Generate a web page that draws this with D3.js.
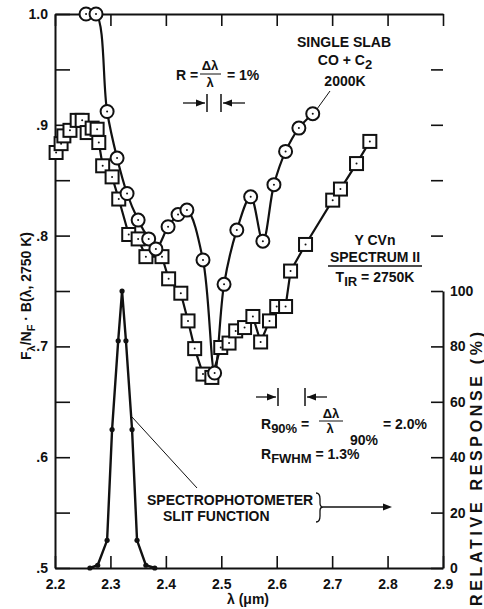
<!DOCTYPE html>
<html>
<head>
<meta charset="utf-8">
<script src="https://cdn.jsdelivr.net/npm/d3@7"></script>
<style>
body { margin: 0; background: #fff; }
text { font-family: "Liberation Sans", Arial, sans-serif; font-weight: bold; fill: #111; }
</style>
</head>
<body>
<svg id="chart" width="484" height="609"></svg>
<script>
// single slab model (circles)
const slabLambda = [2.256, 2.274, 2.294, 2.312, 2.330, 2.350, 2.369, 2.382, 2.404, 2.422, 2.438,
  2.467, 2.488, 2.505, 2.528, 2.553, 2.575, 2.595, 2.616, 2.640, 2.665];
const slabFlux = [1.0, 1.0, 0.912, 0.870, 0.838, 0.814, 0.797, 0.788, 0.808, 0.819, 0.823,
  0.778, 0.676, 0.756, 0.805, 0.835, 0.795, 0.846, 0.876, 0.897, 0.910];

// Y CVn observed spectrum (squares)
const obsLambda = [2.202, 2.211, 2.216, 2.227, 2.240, 2.249, 2.258, 2.267, 2.276, 2.279, 2.286,
  2.303, 2.315, 2.333, 2.350, 2.364, 2.393, 2.405, 2.427, 2.440, 2.452, 2.467, 2.483, 2.499,
  2.514, 2.526, 2.542, 2.557, 2.571, 2.587, 2.600, 2.616, 2.625, 2.652, 2.701, 2.715, 2.744, 2.768];
const obsFlux = [0.875, 0.883, 0.890, 0.895, 0.904, 0.904, 0.893, 0.897, 0.896, 0.884, 0.863,
  0.853, 0.833, 0.801, 0.797, 0.781, 0.781, 0.761, 0.748, 0.723, 0.698, 0.675, 0.672, 0.699,
  0.703, 0.714, 0.717, 0.727, 0.704, 0.723, 0.736, 0.736, 0.768, 0.792, 0.832, 0.842, 0.865, 0.885];

// spectrophotometer slit function, relative response %
const slitLambda = [2.263, 2.277, 2.294, 2.303, 2.314, 2.321, 2.328, 2.339, 2.348, 2.364, 2.380];
const slitResponse = [0, 1, 10, 50, 82, 100, 82, 50, 10, 1, 0];

const xTicks = [2.2, 2.3, 2.4, 2.5, 2.6, 2.7, 2.8, 2.9];
const yTicks = [0.5, 0.55, 0.6, 0.65, 0.7, 0.75, 0.8, 0.85, 0.9, 0.95, 1.0];
const yLabels = {"0.5": ".5", "0.6": ".6", "0.7": ".7", "0.8": ".8", "0.9": ".9", "1": "1.0"};
const rightTicks = [0, 20, 40, 60, 80, 100, 120, 140, 160, 180];

const svg = d3.select("#chart");

const x = d3.scaleLinear().domain([2.2, 2.9]).range([55, 443]);
const y = d3.scaleLinear().domain([0.5, 1.0]).range([568, 14]);
const yR = d3.scaleLinear().domain([0, 100]).range([568, 291]);

function styleAxis(g) {
  g.attr("font-size", 14).attr("font-family", null);
  g.select(".domain").attr("stroke", "#111").attr("stroke-width", 2);
  g.selectAll(".tick line").attr("stroke", "#111").attr("stroke-width", 1.6);
  g.selectAll(".tick text").attr("fill", "#111");
}

svg.append("g").attr("transform", "translate(0,568)")
  .call(d3.axisBottom(x).tickValues(xTicks).tickSize(-12).tickSizeOuter(0).tickPadding(11).tickFormat(d3.format(".1f")))
  .call(styleAxis);
svg.append("g").attr("transform", "translate(0,14)")
  .call(d3.axisTop(x).tickValues(xTicks).tickSize(-12).tickSizeOuter(0).tickFormat(""))
  .call(styleAxis);
svg.append("g").attr("transform", "translate(55,0)")
  .call(d3.axisLeft(y).tickValues(yTicks).tickSize(-15).tickSizeOuter(0).tickPadding(7)
    .tickFormat(d => yLabels[String(+d.toFixed(2))] || ""))
  .call(styleAxis);
svg.append("g").attr("transform", "translate(443,0)")
  .call(d3.axisRight(yR).tickValues(rightTicks).tickSize(-12).tickSizeOuter(0).tickPadding(7)
    .tickFormat(d => d <= 100 ? d : ""))
  .call(styleAxis);

// axis titles
svg.append("text").attr("x", 248).attr("y", 604).attr("text-anchor", "middle")
  .attr("font-size", 14).attr("font-weight", "normal").text("λ (μm)");

const ylab = svg.append("text").attr("transform", "translate(31,296) rotate(-90)")
  .attr("text-anchor", "middle").attr("font-size", 14);
ylab.append("tspan").text("F");
ylab.append("tspan").attr("font-size", 11).attr("dy", 4).text("λ");
ylab.append("tspan").attr("dy", -4).text("/N");
ylab.append("tspan").attr("font-size", 11).attr("dy", 4).text("F");
ylab.append("tspan").attr("dy", -4).text(" · B(λ, 2750 K)");

svg.append("text").attr("transform", "translate(482,469) rotate(-90)")
  .attr("text-anchor", "middle").attr("font-size", 16).attr("textLength", 274)
  .text("RELATIVE RESPONSE (%)");

// data lines
const lineG = svg.append("g");
const obs = obsLambda.map((l, i) => [l, obsFlux[i]]);
const slab = slabLambda.map((l, i) => [l, slabFlux[i]]);
const slit = slitLambda.map((l, i) => [l, slitResponse[i]]);

lineG.append("path").datum(obs)
  .attr("d", d3.line().x(d => x(d[0])).y(d => y(d[1])))
  .attr("fill", "none").attr("stroke", "#111").attr("stroke-width", 2.2);
lineG.append("path").datum(slab)
  .attr("d", d3.line().x(d => x(d[0])).y(d => y(d[1])).curve(d3.curveCatmullRom.alpha(0.5)))
  .attr("fill", "none").attr("stroke", "#111").attr("stroke-width", 2.2);
lineG.append("path").datum(slit)
  .attr("d", d3.line().x(d => x(d[0])).y(d => yR(d[1])))
  .attr("fill", "none").attr("stroke", "#111").attr("stroke-width", 2.4);

// markers
const sq = svg.append("g").selectAll("g").data(obs).join("g")
  .attr("transform", d => `translate(${x(d[0])},${y(d[1])})`);
sq.append("rect").attr("x", -6.5).attr("y", -6.5).attr("width", 13).attr("height", 13)
  .attr("fill", "#fff").attr("stroke", "#111").attr("stroke-width", 2);
sq.append("circle").attr("r", 1).attr("fill", "#111");

const ci = svg.append("g").selectAll("g").data(slab).join("g")
  .attr("transform", d => `translate(${x(d[0])},${y(d[1])})`);
ci.append("circle").attr("r", 6.5)
  .attr("fill", "#fff").attr("stroke", "#111").attr("stroke-width", 2);
ci.append("circle").attr("r", 1).attr("fill", "#111");

svg.append("g").selectAll("circle").data(slit).join("circle")
  .attr("cx", d => x(d[0])).attr("cy", d => yR(d[1])).attr("r", 2.6).attr("fill", "#111");

// annotations
const ann = svg.append("g");
function arrowHead(px, py, dir) {
  ann.append("path")
    .attr("d", `M${px},${py} l${-dir * 9},-3.5 l0,7 Z`).attr("fill", "#111");
}
function resMarker(x1, x2, yy, len) {
  ann.append("line").attr("x1", x1).attr("x2", x1).attr("y1", yy - 9).attr("y2", yy + 9)
    .attr("stroke", "#111").attr("stroke-width", 1.5);
  ann.append("line").attr("x1", x2).attr("x2", x2).attr("y1", yy - 9).attr("y2", yy + 9)
    .attr("stroke", "#111").attr("stroke-width", 1.5);
  ann.append("line").attr("x1", x1 - len).attr("x2", x1 - 2).attr("y1", yy).attr("y2", yy)
    .attr("stroke", "#111").attr("stroke-width", 1.3);
  ann.append("line").attr("x1", x2 + 2).attr("x2", x2 + len).attr("y1", yy).attr("y2", yy)
    .attr("stroke", "#111").attr("stroke-width", 1.3);
  arrowHead(x1 - 2, yy, 1);
  arrowHead(x2 + 2, yy, -1);
}

// R = Δλ/λ = 1%
ann.append("text").attr("x", 176).attr("y", 80).attr("font-size", 14).text("R =");
ann.append("text").attr("x", 210).attr("y", 70).attr("text-anchor", "middle").attr("font-size", 13).attr("font-weight", "normal").text("Δλ");
ann.append("line").attr("x1", 200).attr("x2", 221).attr("y1", 74).attr("y2", 74).attr("stroke", "#111").attr("stroke-width", 1);
ann.append("text").attr("x", 210).attr("y", 87).attr("text-anchor", "middle").attr("font-size", 13).attr("font-weight", "normal").text("λ");
ann.append("text").attr("x", 227).attr("y", 80).attr("font-size", 14).text("= 1%");
resMarker(207, 221, 103, 24);

// SINGLE SLAB
ann.append("text").attr("x", 344).attr("y", 47).attr("text-anchor", "middle").attr("font-size", 14).text("SINGLE SLAB");
const co = ann.append("text").attr("x", 345).attr("y", 65).attr("text-anchor", "middle").attr("font-size", 14);
co.append("tspan").text("CO + C");
co.append("tspan").attr("dy", 4).attr("font-size", 13).text("2");
ann.append("text").attr("x", 345).attr("y", 86).attr("text-anchor", "middle").attr("font-size", 14).text("2000K");
ann.append("line").attr("x1", 330).attr("y1", 91).attr("x2", 317).attr("y2", 109).attr("stroke", "#111").attr("stroke-width", 1);

// Y CVn
ann.append("text").attr("x", 375).attr("y", 245).attr("text-anchor", "middle").attr("font-size", 14).text("Y CVn");
ann.append("text").attr("x", 375).attr("y", 262).attr("text-anchor", "middle").attr("font-size", 14).text("SPECTRUM II");
ann.append("line").attr("x1", 328).attr("x2", 422).attr("y1", 266).attr("y2", 266).attr("stroke", "#111").attr("stroke-width", 1.3);
const tir = ann.append("text").attr("x", 375).attr("y", 282).attr("text-anchor", "middle").attr("font-size", 14);
tir.append("tspan").text("T");
tir.append("tspan").attr("dy", 4).attr("font-size", 13).text("IR");
tir.append("tspan").attr("dy", -4).text(" = 2750K");

// R90% and RFWHM
resMarker(278, 305, 397, 22);
const r90 = ann.append("text").attr("x", 261).attr("y", 429).attr("font-size", 14);
r90.append("tspan").text("R");
r90.append("tspan").attr("dy", 4).attr("font-size", 13).text("90%");
r90.append("tspan").attr("dy", -4).text(" =");
ann.append("text").attr("x", 331).attr("y", 418).attr("text-anchor", "middle").attr("font-size", 13).attr("font-weight", "normal").text("Δλ");
ann.append("line").attr("x1", 319).attr("x2", 343).attr("y1", 421).attr("y2", 421).attr("stroke", "#111").attr("stroke-width", 1);
ann.append("text").attr("x", 330).attr("y", 433).attr("text-anchor", "middle").attr("font-size", 13).attr("font-weight", "normal").text("λ");
ann.append("text").attr("x", 364).attr("y", 445).attr("text-anchor", "middle").attr("font-size", 14).text("90%");
ann.append("text").attr("x", 383).attr("y", 429).attr("font-size", 14).text("= 2.0%");
const rf = ann.append("text").attr("x", 261).attr("y", 459).attr("font-size", 14);
rf.append("tspan").text("R");
rf.append("tspan").attr("dy", 4).attr("font-size", 13).text("FWHM");
rf.append("tspan").attr("dy", -4).text(" = 1.3%");

// slit function label
ann.append("text").attr("x", 147).attr("y", 505).attr("font-size", 14).text("SPECTROPHOTOMETER");
ann.append("text").attr("x", 163).attr("y", 521).attr("font-size", 14).text("SLIT FUNCTION");
ann.append("line").attr("x1", 132).attr("y1", 417).attr("x2", 197).attr("y2", 488).attr("stroke", "#111").attr("stroke-width", 1);
ann.append("path")
  .attr("d", "M316,493 Q320,493 320,499 L320,503 Q320,507 323,507 Q320,507 320,511 L320,516 Q320,522 316,522")
  .attr("fill", "none").attr("stroke", "#111").attr("stroke-width", 1.3);
ann.append("line").attr("x1", 323).attr("x2", 384).attr("y1", 507).attr("y2", 507).attr("stroke", "#111").attr("stroke-width", 1.3);
arrowHead(392, 507, 1);
</script>
</body>
</html>
